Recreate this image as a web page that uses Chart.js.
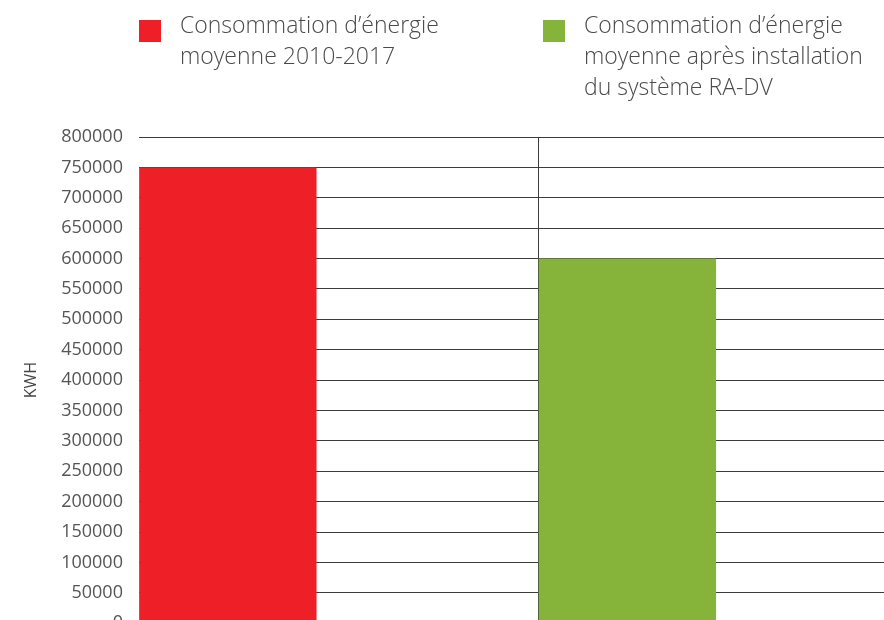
<!DOCTYPE html>
<html>
<head>
<meta charset="utf-8">
<script src="https://cdn.jsdelivr.net/npm/chart.js@4.4.1/dist/chart.umd.min.js"></script>
<style>
  html, body { margin: 0; padding: 0; background: #fff; overflow: hidden; }
  #wrap { position: relative; width: 884px; height: 620px; overflow: hidden; }
  #chartBox { position: absolute; left: 0; top: 0; width: 940px; height: 650px; }
  .legend { position: absolute; top: 9px; font-family: "Open Sans", sans-serif; font-weight: 300;
            font-size: 23px; line-height: 31px; color: #4a4a4a; white-space: nowrap; }
  .legend .sw { position: absolute; left: -41px; top: 11px; width: 22px; height: 22px; }
</style>
</head>
<body>
<div id="wrap">
  <div id="chartBox"><canvas id="myChart"></canvas></div>
  <div id="legend"></div>
</div>
<script>
const legendLines = [
    ['Consommation d’énergie', 'moyenne 2010-2017'],
    ['Consommation d’énergie', 'moyenne après installation', 'du système RA-DV'],
];
const categories = legendLines.map((l) => l.join(' '));
const consumption = [750000, 600000];
const barColours = ['#EE1F26', '#86B33A'];
const yMin = 0;
const yMax = 800000;
const yStep = 50000;
const yTitle = 'KWH';

// legend as html text
const legendLeft = [180, 584];
const legendEl = document.getElementById('legend');
legendLines.forEach((lines, i) => {
    const div = document.createElement('div');
    div.className = 'legend';
    div.style.left = legendLeft[i] + 'px';
    div.innerHTML = '<span class="sw" style="background:' + barColours[i] + '"></span>' + lines.join('<br>');
    legendEl.appendChild(div);
});

const ctx = document.getElementById('myChart').getContext('2d');
new Chart(ctx, {
    type: 'bar',
    data: {
        labels: categories,
        datasets: [
            {
                data: consumption,
                backgroundColor: barColours,
                borderWidth: 0,
            },
            {
                // empty spacer so the bars sit on the left side of each category
                data: [null, null],
            },
        ],
    },
    options: {
        responsive: true,
        maintainAspectRatio: false,
        animation: false,
        categoryPercentage: 1.11,
        barPercentage: 0.8,
        layout: {
            padding: { top: 137, bottom: 20, right: 2, left: 22 },
        },
        plugins: {
            legend: { display: false },
            tooltip: { enabled: false },
        },
        scales: {
            x: {
                offset: true,
                ticks: { display: false },
                border: { display: false },
                grid: {
                    color: (c) => (c.index === 0 ? 'rgba(0,0,0,0)' : '#3c3c3c'),
                    lineWidth: 1,
                    drawTicks: false,
                    offset: true,
                },
            },
            y: {
                min: yMin,
                max: yMax,
                ticks: {
                    stepSize: yStep,
                    padding: 16,
                    color: '#555',
                    font: { family: 'Open Sans', size: 18 },
                    callback: (v) => String(v),
                },
                border: { display: false },
                grid: { color: '#3c3c3c', lineWidth: 1, drawTicks: false },
                title: {
                    display: true,
                    text: yTitle,
                    color: '#444',
                    padding: { top: 0, bottom: 4 },
                    font: { family: 'Open Sans', size: 16 },
                },
            },
        },
    },
});
</script>
</body>
</html>
